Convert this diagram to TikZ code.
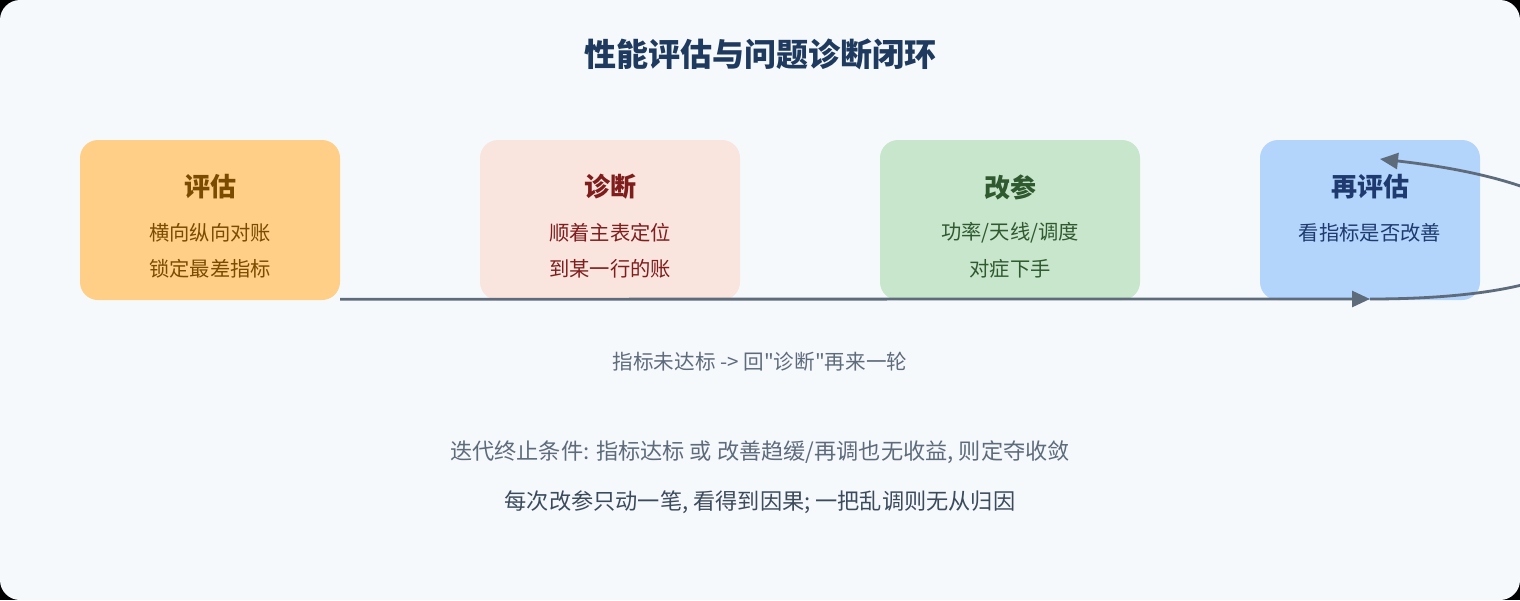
\documentclass[tikz,border=0pt]{standalone}
\usepackage{fontspec}
\setmainfont{Noto Sans CJK SC}[Ligatures=TeXOff]
\usetikzlibrary{arrows.meta}
\definecolor{bgc}{HTML}{F6F9FC}
\definecolor{titlec}{HTML}{1F3A5F}
\definecolor{fillA}{HTML}{FFCF88}
\definecolor{textA}{HTML}{7A4B00}
\definecolor{fillB}{HTML}{F9E4DE}
\definecolor{textB}{HTML}{7F1D1D}
\definecolor{fillC}{HTML}{C8E6CB}
\definecolor{textC}{HTML}{2F5A2F}
\definecolor{fillD}{HTML}{B3D4FB}
\definecolor{textD}{HTML}{1E3A6E}
\definecolor{linec}{HTML}{5E6B7B}
\definecolor{notec}{HTML}{3C4B5C}
\tikzset{
  card/.style={rounded corners=18pt, minimum height=160pt, inner sep=0pt, draw=none},
  cardtitle/.style={font=\fontsize{26}{30}\selectfont\bfseries, inner sep=0pt},
  cardline/.style={font=\fontsize{20.3}{24}\selectfont, inner sep=0pt},
  conn/.style={draw=linec, line width=2.8pt, -{Triangle[length=18pt,width=16pt]}},
  note/.style={font=\fontsize{22.2}{26}\selectfont, inner sep=0pt},
}
\begin{document}
\begin{tikzpicture}[x=1pt,y=-1pt]
\useasboundingbox (0,0) rectangle (1520,600);
\fill[black] (0,0) rectangle (1520,600);
\fill[bgc, rounded corners=20pt] (0,0) rectangle (1520,600);

\node[font=\fontsize{32}{37}\selectfont\bfseries, text=titlec, inner sep=0pt] (title) at (760,54) {性能评估与问题诊断闭环};

\node[card, fill=fillA, minimum width=260pt] (b1) at (210,220) {};
\node[card, fill=fillB, minimum width=260pt] (b2) at (610,220) {};
\node[card, fill=fillC, minimum width=260pt] (b3) at (1010,220) {};
\node[card, fill=fillD, minimum width=220pt] (b4) at (1370,220) {};

\node[cardtitle, text=textA] (b1t) at (210,187) {评估};
\node[cardline, text=textA] (b1a) at (210,233) {横向纵向对账};
\node[cardline, text=textA] (b1b) at (210,269) {锁定最差指标};

\node[cardtitle, text=textB] (b2t) at (610,187) {诊断};
\node[cardline, text=textB] (b2a) at (610,233) {顺着主表定位};
\node[cardline, text=textB] (b2b) at (610,269) {到某一行的账};

\node[cardtitle, text=textC] (b3t) at (1010,187) {改参};
\node[cardline, text=textC] (b3a) at (1010,233) {功率/天线/调度};
\node[cardline, text=textC] (b3b) at (1010,269) {对症下手};

\node[cardtitle, text=textD] (b4t) at (1370,187) {再评估};
\node[cardline, text=textD] (b4a) at (1370,233) {看指标是否改善};

\coordinate (s) at ([yshift=1pt]b1.south east);
\coordinate (m) at (1370,299);
\coordinate (e) at (1380,159);
\draw[conn] (s) -- (m);
\draw[conn] (m) .. controls (1665,299) and (1655,190) .. (e);

\node[font=\fontsize{20.6}{24}\selectfont, text=linec, inner sep=0pt] (lbl) at (760,362) {指标未达标 -> 回"诊断"再来一轮};

\node[note, text=linec] (n1) at (760,452) {迭代终止条件: 指标达标 或 改善趋缓/再调也无收益, 则定夺收敛};
\node[note, text=notec] (n2) at (760,502) {每次改参只动一笔, 看得到因果; 一把乱调则无从归因};
\end{tikzpicture}
\end{document}
